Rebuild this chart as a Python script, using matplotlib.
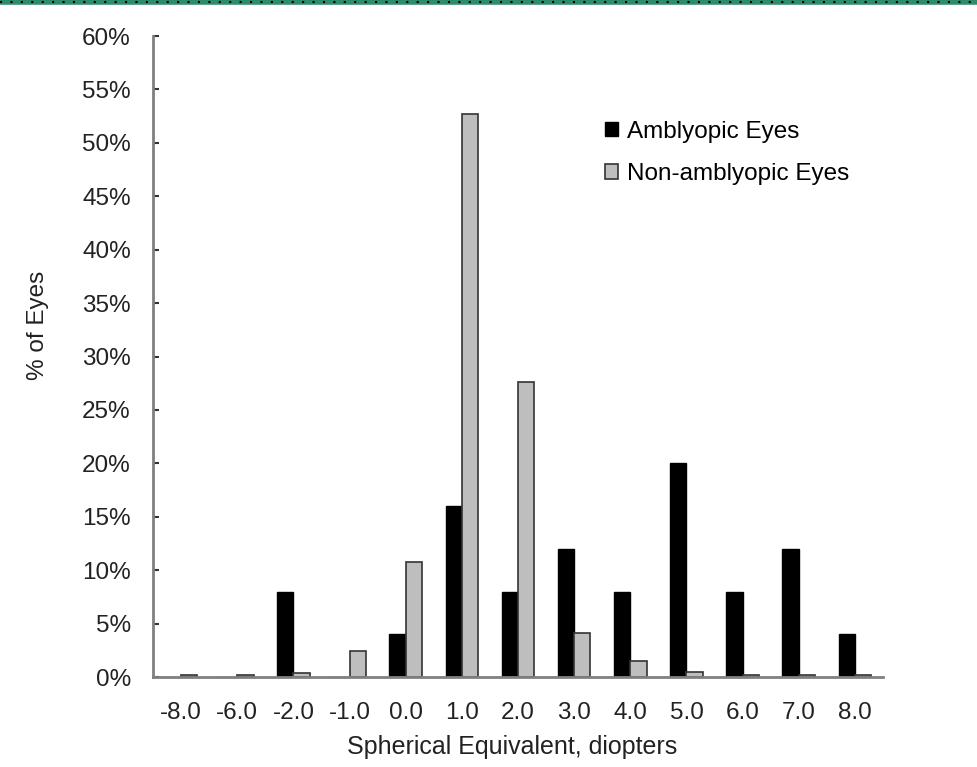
import matplotlib.pyplot as plt
import numpy as np
from matplotlib.lines import Line2D

categories = ["-8.0", "-6.0", "-2.0", "-1.0", "0.0", "1.0", "2.0",
              "3.0", "4.0", "5.0", "6.0", "7.0", "8.0"]
amblyopic = [0, 0, 8, 0, 4, 16, 8, 12, 8, 20, 8, 12, 4]
non_amblyopic = [0.15, 0.15, 0.4, 2.4, 10.8, 52.7, 27.6, 4.1, 1.5, 0.5, 0.15, 0.15, 0.15]
y_ticks = list(range(0, 61, 5))

plt.rcParams["font.family"] = ["Liberation Sans", "DejaVu Sans"]
fs = 17.5

fig = plt.figure(figsize=(9.77, 7.67), dpi=100)
ax = fig.add_axes([0.1566, 0.1173, 0.7472, 0.8357])

x = np.arange(len(categories))
w = 0.29
ax.bar(x - w / 2, amblyopic, w, color="black", edgecolor="black",
       linewidth=1, label="Amblyopic Eyes")
ax.bar(x + w / 2, non_amblyopic, w, color="#bebebe", edgecolor="#333333",
       linewidth=1.2, label="Non-amblyopic Eyes")

ax.set_xlim(-0.5, len(categories) - 0.5)
ax.set_ylim(0, 60)
ax.set_xticks(x)
ax.set_xticklabels(categories)
ax.set_yticks(y_ticks)
ax.set_yticklabels([f"{t}%" for t in y_ticks])
ax.tick_params(axis="x", length=0, pad=18, labelsize=fs, colors="#222222")
ax.tick_params(axis="y", direction="in", length=4, width=1.5, color="#333333",
               pad=16, labelsize=fs, labelcolor="#222222")

for side in ["top", "right"]:
    ax.spines[side].set_visible(False)
for side in ["left", "bottom"]:
    ax.spines[side].set_color("#808080")
    ax.spines[side].set_linewidth(2)

ax.set_xlabel("Spherical Equivalent, diopters", fontsize=18, color="#222222")
ax.set_ylabel("% of Eyes", fontsize=fs, color="#222222")
ax.xaxis.set_label_coords(0.492, -0.09)
ax.yaxis.set_label_coords(-0.142, 0.549)

ax.legend(loc="upper left", bbox_to_anchor=(0.619, 0.868), frameon=False,
          fontsize=fs, handlelength=0.55, handleheight=0.55, handletextpad=0.34,
          labelspacing=0.85, borderaxespad=0, borderpad=0)

# dotted green strip at the very top
fig.add_artist(Line2D([0, 1], [0.997, 0.997], transform=fig.transFigure,
                      color="#2e8b6e", lw=4))
fig.add_artist(Line2D([0, 1], [0.997, 0.997], transform=fig.transFigure,
                      color="black", lw=1.5, linestyle=(0, (1, 4))))

fig.savefig("out.png", dpi=100)
